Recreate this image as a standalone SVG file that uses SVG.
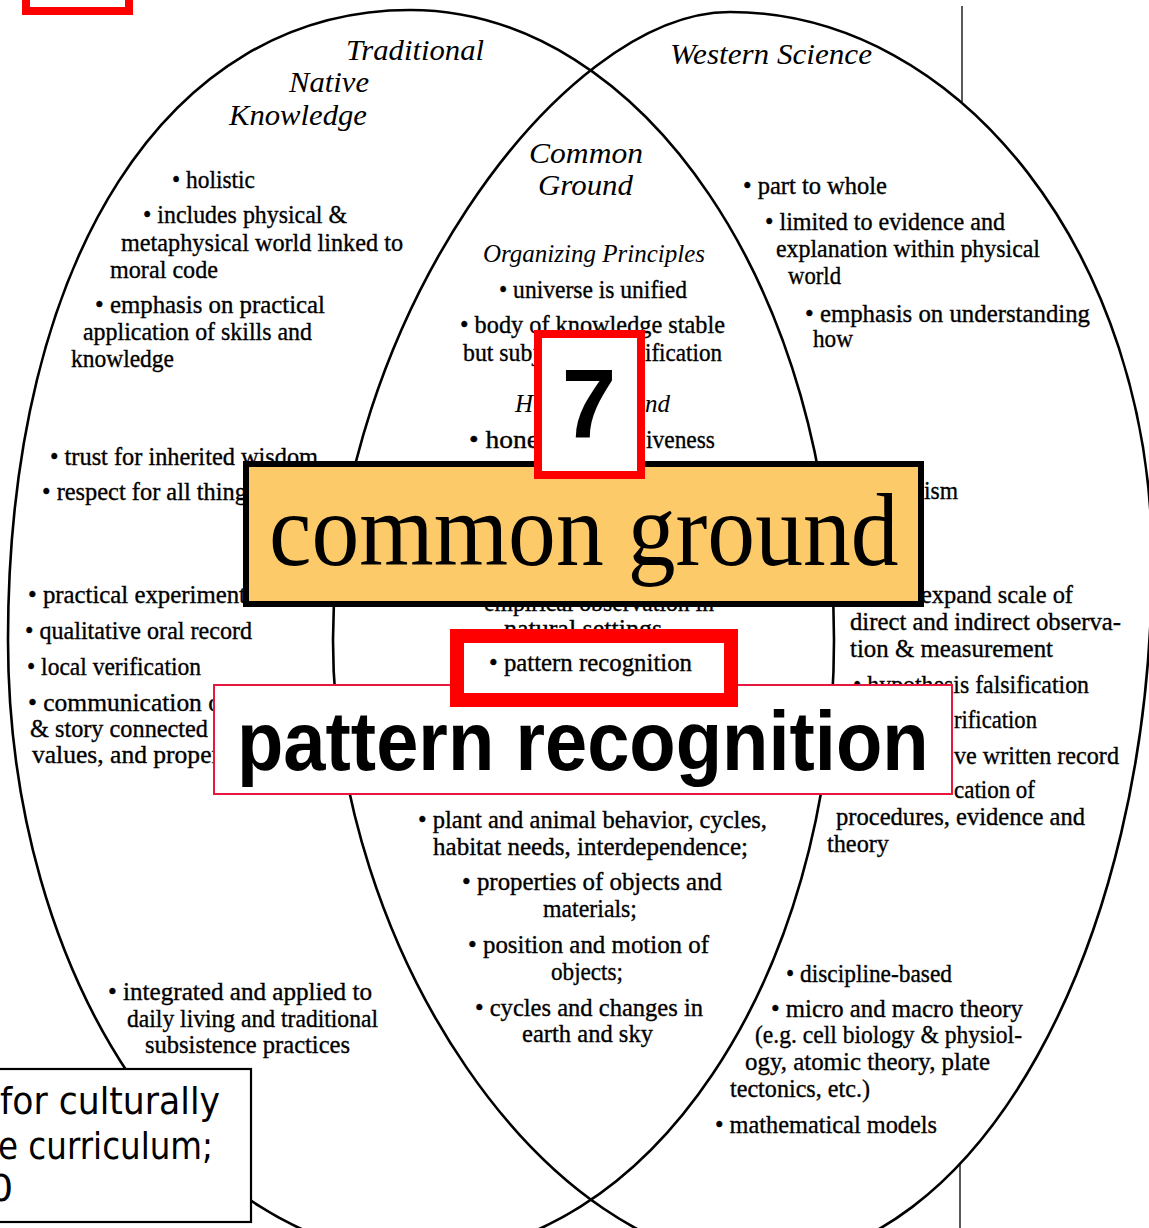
<svg xmlns="http://www.w3.org/2000/svg" width="1149" height="1228" viewBox="0 0 1149 1228">
<style>
.ell{fill:none;stroke:#000;stroke-width:2.6}
.b{font-family:"Liberation Serif",serif;font-size:25px;fill:#000;stroke:#000;stroke-width:0.35}
.h{font-family:"Liberation Serif",serif;font-style:italic;font-size:30px;fill:#000}
.hs{font-family:"Liberation Serif",serif;font-style:italic;font-size:25px;fill:#000}
.cmt{font-family:"DejaVu Sans",sans-serif;font-size:38px;fill:#000}
</style>
<rect width="1149" height="1228" fill="#fff"/>
<g id="connectors">
<line x1="962" y1="6" x2="962" y2="104" stroke="#000" stroke-width="1.3"/>
<line x1="960" y1="1163" x2="960" y2="1228" stroke="#000" stroke-width="1.3"/>
</g>
<g id="traditional-native-knowledge">
<path class="ell" d="M8,640 C8,257 169,10 410,10 C643,10 834,293 834,640 C834,978 648,1255 420,1255 C193,1255 8,978 8,640 Z"/>
<text class="h" x="346" y="60" textLength="138" lengthAdjust="spacingAndGlyphs">Traditional</text>
<text class="h" x="289" y="92" textLength="80" lengthAdjust="spacingAndGlyphs">Native</text>
<text class="h" x="229" y="125" textLength="138" lengthAdjust="spacingAndGlyphs">Knowledge</text>
<text class="b" x="172" y="188" textLength="83" lengthAdjust="spacingAndGlyphs">• holistic</text>
<text class="b" x="143" y="223" textLength="204" lengthAdjust="spacingAndGlyphs">• includes physical &amp;</text>
<text class="b" x="121" y="251" textLength="282" lengthAdjust="spacingAndGlyphs">metaphysical world linked to</text>
<text class="b" x="110" y="278" textLength="108" lengthAdjust="spacingAndGlyphs">moral code</text>
<text class="b" x="95" y="313" textLength="230" lengthAdjust="spacingAndGlyphs">• emphasis on practical</text>
<text class="b" x="83" y="340" textLength="229" lengthAdjust="spacingAndGlyphs">application of skills and</text>
<text class="b" x="71" y="367" textLength="103" lengthAdjust="spacingAndGlyphs">knowledge</text>
<text class="b" x="50" y="465" textLength="268" lengthAdjust="spacingAndGlyphs">• trust for inherited wisdom</text>
<text class="b" x="42" y="500" textLength="205" lengthAdjust="spacingAndGlyphs">• respect for all thing</text>
<text class="b" x="28" y="603" textLength="218" lengthAdjust="spacingAndGlyphs">• practical experiment</text>
<text class="b" x="25" y="639" textLength="227" lengthAdjust="spacingAndGlyphs">• qualitative oral record</text>
<text class="b" x="27" y="675" textLength="174" lengthAdjust="spacingAndGlyphs">• local verification</text>
<text class="b" x="28" y="711" textLength="193" lengthAdjust="spacingAndGlyphs">• communication o</text>
<text class="b" x="30" y="737" textLength="178" lengthAdjust="spacingAndGlyphs">&amp; story connected</text>
<text class="b" x="32" y="763" textLength="188" lengthAdjust="spacingAndGlyphs">values, and proper</text>
<text class="b" x="108" y="1000" textLength="264" lengthAdjust="spacingAndGlyphs">• integrated and applied to</text>
<text class="b" x="127" y="1027" textLength="251" lengthAdjust="spacingAndGlyphs">daily living and traditional</text>
<text class="b" x="145" y="1053" textLength="205" lengthAdjust="spacingAndGlyphs">subsistence practices</text>
</g>
<g id="western-science">
<path class="ell" d="M333,640 C333,326 560,12 730,12 C962,12 1152,259 1152,560 C1152,948 976,1262 760,1262 C547,1262 333,951 333,640 Z"/>
<text class="h" x="670" y="64" textLength="202" lengthAdjust="spacingAndGlyphs">Western Science</text>
<text class="b" x="743" y="194" textLength="144" lengthAdjust="spacingAndGlyphs">• part to whole</text>
<text class="b" x="765" y="230" textLength="240" lengthAdjust="spacingAndGlyphs">• limited to evidence and</text>
<text class="b" x="776" y="257" textLength="264" lengthAdjust="spacingAndGlyphs">explanation within physical</text>
<text class="b" x="788" y="284" textLength="53" lengthAdjust="spacingAndGlyphs">world</text>
<text class="b" x="805" y="322" textLength="285" lengthAdjust="spacingAndGlyphs">• emphasis on understanding</text>
<text class="b" x="813" y="347" textLength="40" lengthAdjust="spacingAndGlyphs">how</text>
<text class="b" x="924" y="499" textLength="34" lengthAdjust="spacingAndGlyphs">ism</text>
<text class="b" x="921" y="603" textLength="152" lengthAdjust="spacingAndGlyphs">expand scale of</text>
<text class="b" x="850" y="630" textLength="271" lengthAdjust="spacingAndGlyphs">direct and indirect observa-</text>
<text class="b" x="850" y="657" textLength="203" lengthAdjust="spacingAndGlyphs">tion &amp; measurement</text>
<text class="b" x="853" y="693" textLength="236" lengthAdjust="spacingAndGlyphs">• hypothesis falsification</text>
<text class="b" x="954" y="728" textLength="83" lengthAdjust="spacingAndGlyphs">rification</text>
<text class="b" x="954" y="764" textLength="165" lengthAdjust="spacingAndGlyphs">ve written record</text>
<text class="b" x="954" y="798" textLength="81" lengthAdjust="spacingAndGlyphs">cation of</text>
<text class="b" x="836" y="825" textLength="249" lengthAdjust="spacingAndGlyphs">procedures, evidence and</text>
<text class="b" x="827" y="852" textLength="62" lengthAdjust="spacingAndGlyphs">theory</text>
<text class="b" x="786" y="982" textLength="166" lengthAdjust="spacingAndGlyphs">• discipline-based</text>
<text class="b" x="771" y="1017" textLength="252" lengthAdjust="spacingAndGlyphs">• micro and macro theory</text>
<text class="b" x="755" y="1043" textLength="267" lengthAdjust="spacingAndGlyphs">(e.g. cell biology &amp; physiol-</text>
<text class="b" x="745" y="1070" textLength="245" lengthAdjust="spacingAndGlyphs">ogy, atomic theory, plate</text>
<text class="b" x="730" y="1097" textLength="140" lengthAdjust="spacingAndGlyphs">tectonics, etc.)</text>
<text class="b" x="715" y="1133" textLength="222" lengthAdjust="spacingAndGlyphs">• mathematical models</text>
</g>
<g id="common-ground">
<text class="h" x="529" y="163" textLength="114" lengthAdjust="spacingAndGlyphs">Common</text>
<text class="h" x="538" y="195" textLength="95" lengthAdjust="spacingAndGlyphs">Ground</text>
<text class="hs" x="483" y="262" textLength="222" lengthAdjust="spacingAndGlyphs">Organizing Principles</text>
<text class="b" x="499" y="298" textLength="188" lengthAdjust="spacingAndGlyphs">• universe is unified</text>
<text class="b" x="460" y="333" textLength="265" lengthAdjust="spacingAndGlyphs">• body of knowledge stable</text>
<text class="b" x="463" y="361" textLength="76" lengthAdjust="spacingAndGlyphs">but subj</text>
<text class="b" x="645" y="361" textLength="77" lengthAdjust="spacingAndGlyphs">ification</text>
<text class="hs" x="515" y="412">H</text>
<text class="hs" x="645" y="412" textLength="25" lengthAdjust="spacingAndGlyphs">nd</text>
<text class="b" x="469" y="448" textLength="70" lengthAdjust="spacingAndGlyphs">• hone</text>
<text class="b" x="646" y="448" textLength="69" lengthAdjust="spacingAndGlyphs">iveness</text>
<text class="b" x="484" y="611" textLength="230" lengthAdjust="spacingAndGlyphs">empirical observation in</text>
<text class="b" x="504" y="637" textLength="158" lengthAdjust="spacingAndGlyphs">natural settings</text>
<text class="b" x="418" y="828" textLength="349" lengthAdjust="spacingAndGlyphs">• plant and animal behavior, cycles,</text>
<text class="b" x="433" y="855" textLength="315" lengthAdjust="spacingAndGlyphs">habitat needs, interdependence;</text>
<text class="b" x="462" y="890" textLength="260" lengthAdjust="spacingAndGlyphs">• properties of objects and</text>
<text class="b" x="543" y="917" textLength="94" lengthAdjust="spacingAndGlyphs">materials;</text>
<text class="b" x="468" y="953" textLength="241" lengthAdjust="spacingAndGlyphs">• position and motion of</text>
<text class="b" x="551" y="980" textLength="72" lengthAdjust="spacingAndGlyphs">objects;</text>
<text class="b" x="475" y="1016" textLength="228" lengthAdjust="spacingAndGlyphs">• cycles and changes in</text>
<text class="b" x="522" y="1042" textLength="131" lengthAdjust="spacingAndGlyphs">earth and sky</text>
</g>
<g id="common-ground-label">
<rect x="246" y="464" width="675" height="140" fill="#FDCA69" stroke="#000" stroke-width="6"/>
<text transform="translate(269,565) scale(0.92,1)" x="0" y="0" font-family="'Liberation Serif',serif" font-size="104" fill="#000">common ground</text>
</g>
<g id="number-7">
<rect x="538" y="334" width="103" height="141" fill="#fff" stroke="#f00" stroke-width="8"/>
<text x="589" y="438" font-family="'Liberation Sans',sans-serif" font-weight="bold" font-size="98" text-anchor="middle" fill="#000">7</text>
</g>
<g id="pattern-recognition-label">
<rect x="214" y="685" width="738" height="109" fill="#fff" stroke="#E8173F" stroke-width="2"/>
<text transform="translate(237,770) scale(0.904,1)" x="0" y="0" font-family="'Liberation Sans',sans-serif" font-weight="bold" font-size="84" fill="#000">pattern recognition</text>
</g>
<g id="pattern-recognition-highlight">
<rect x="457" y="636" width="274" height="64" fill="#fff" stroke="#f00" stroke-width="14"/>
<text class="b" x="489" y="671" textLength="203" lengthAdjust="spacingAndGlyphs">• pattern recognition</text>
</g>
<g id="citation-box">
<rect x="-4" y="1069" width="255" height="153" fill="#fff" stroke="#000" stroke-width="2.2"/>
<text class="cmt" x="0" y="1114" textLength="220" lengthAdjust="spacingAndGlyphs">for culturally</text>
<text class="cmt" x="-2" y="1159" textLength="215" lengthAdjust="spacingAndGlyphs">e curriculum;</text>
<text class="cmt" x="-11" y="1201">0</text>
</g>
<g id="top-marker">
<rect x="26" y="-20" width="103" height="31" fill="#fff" stroke="#f00" stroke-width="8"/>
</g>
</svg>
